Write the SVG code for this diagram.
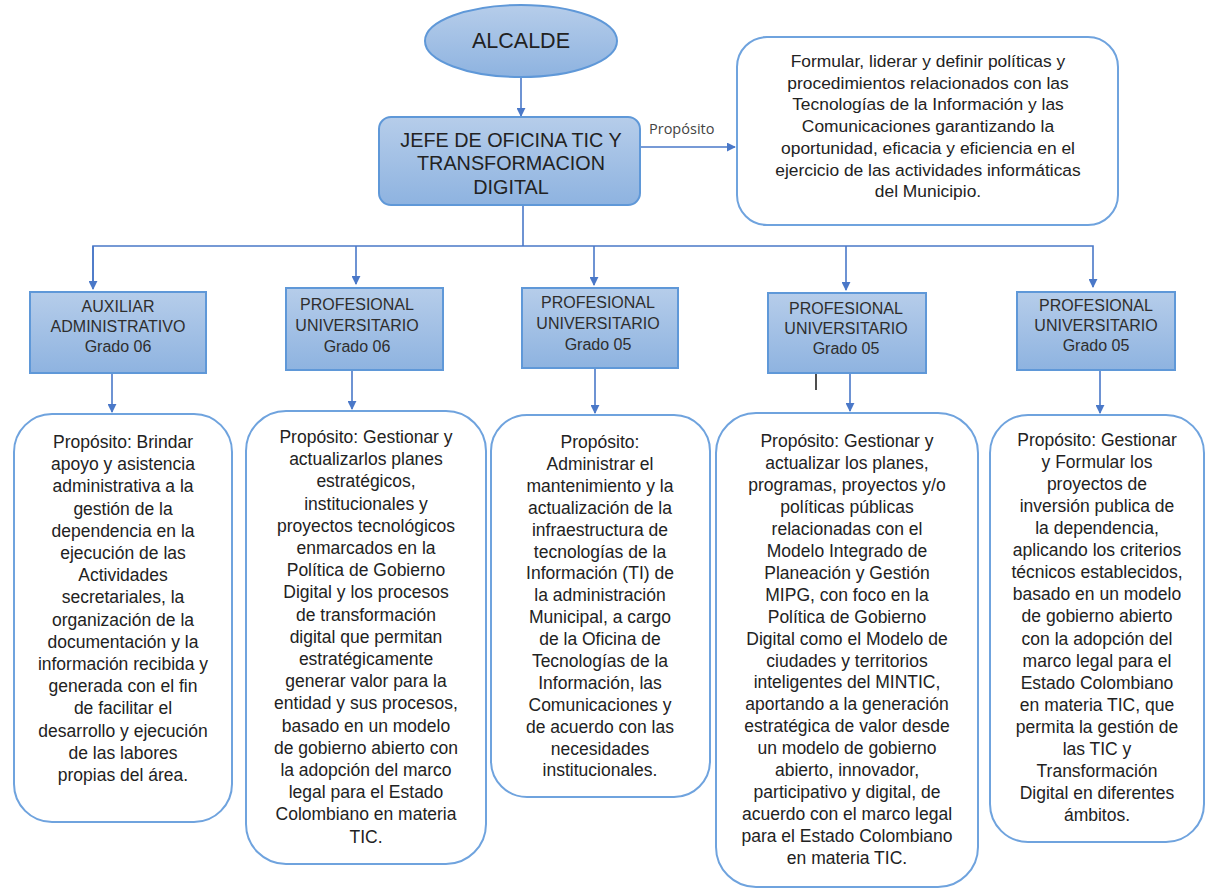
<svg xmlns="http://www.w3.org/2000/svg" width="1206" height="890" viewBox="0 0 1206 890">
<defs>
<linearGradient id="blueGrad" x1="0" y1="0" x2="0" y2="1">
<stop offset="0" stop-color="#b6cdea"/>
<stop offset="1" stop-color="#8eb3e0"/>
</linearGradient>
<marker id="arr" viewBox="0 0 10 10" refX="9" refY="5" markerWidth="9" markerHeight="9" markerUnits="userSpaceOnUse" orient="auto">
<path d="M0,0 L10,5 L0,10 z" fill="#4a78c8"/>
</marker>
</defs>
<style>
.shape{fill:url(#blueGrad);stroke:#5f98d8;stroke-width:2}
.card{fill:#ffffff;stroke:#6fa3de;stroke-width:2}
.conn{fill:none;stroke:#4a78c8;stroke-width:1.6}
.t{font-family:"Liberation Sans",Arial,sans-serif;fill:#222;text-anchor:middle}
.body{font-size:17.5px}
.role{font-size:16px;fill:#2e2e2e}
.lbl{font-family:"Open Sans","Liberation Sans",sans-serif;font-size:14.5px;fill:#444}
</style>
<rect width="1206" height="890" fill="#ffffff"/>

<g id="connectors">
<line class="conn" x1="521" y1="78" x2="521" y2="116" marker-end="url(#arr)"/>
<line class="conn" x1="640" y1="147" x2="735" y2="147" marker-end="url(#arr)"/>
<line class="conn" x1="523" y1="205" x2="523" y2="246"/>
<polyline class="conn" points="93,288 93,246 1093,246 1093,287" marker-end="url(#arr)"/>
<line class="conn" x1="356" y1="246" x2="356" y2="284" marker-end="url(#arr)"/>
<line class="conn" x1="594" y1="246" x2="594" y2="285" marker-end="url(#arr)"/>
<line class="conn" x1="846" y1="246" x2="846" y2="290" marker-end="url(#arr)"/>
<line class="conn" x1="93" y1="246" x2="93" y2="289" marker-end="url(#arr)"/>
<line class="conn" x1="112" y1="373" x2="112" y2="412" marker-end="url(#arr)"/>
<line class="conn" x1="352" y1="370" x2="352" y2="409" marker-end="url(#arr)"/>
<line class="conn" x1="595" y1="368" x2="595" y2="413" marker-end="url(#arr)"/>
<line class="conn" x1="850" y1="373" x2="850" y2="411" marker-end="url(#arr)"/>
<line class="conn" x1="1100" y1="370" x2="1100" y2="413" marker-end="url(#arr)"/>
</g>
<line x1="816" y1="372" x2="816" y2="390" stroke="#222" stroke-width="1.6"/>

<g id="alcalde">
<ellipse class="shape" cx="521" cy="41" rx="96" ry="36"/>
<text class="t" x="521" y="48" font-size="21.5px">ALCALDE</text>
</g>

<g id="jefe">
<rect class="shape" x="379" y="117" width="261" height="88" rx="12"/>
<text class="t" font-size="19.8px"><tspan x="511" y="147">JEFE DE OFICINA TIC Y</tspan><tspan x="511" y="170">TRANSFORMACION</tspan><tspan x="511" y="194">DIGITAL</tspan></text>
</g>

<text class="lbl" x="649" y="134">Propósito</text>

<g id="proposito-jefe">
<rect class="card" x="737" y="37" width="381" height="188" rx="30"/>
<text class="t" font-size="17.4px"><tspan x="928" y="67">Formular, liderar y definir políticas y</tspan><tspan x="928" y="88.7">procedimientos relacionados con las</tspan><tspan x="928" y="110.4">Tecnologías de la Información y las</tspan><tspan x="928" y="132.1">Comunicaciones garantizando la</tspan><tspan x="928" y="153.8">oportunidad, eficacia y eficiencia en el</tspan><tspan x="928" y="175.5">ejercicio de las actividades informáticas</tspan><tspan x="928" y="197.2">del Municipio.</tspan></text>
</g>

<g id="auxiliar">
<rect class="shape" x="30" y="292" width="176" height="81"/>
<text class="t role"><tspan x="118" y="312">AUXILIAR</tspan><tspan x="118" y="332">ADMINISTRATIVO</tspan><tspan x="118" y="352">Grado 06</tspan></text>
</g>
<g id="prof1">
<rect class="shape" x="286" y="288" width="157" height="82"/>
<text class="t role"><tspan x="357" y="310">PROFESIONAL</tspan><tspan x="357" y="331">UNIVERSITARIO</tspan><tspan x="357" y="352">Grado 06</tspan></text>
</g>
<g id="prof2">
<rect class="shape" x="522" y="288" width="156" height="80"/>
<text class="t role"><tspan x="598" y="308">PROFESIONAL</tspan><tspan x="598" y="329">UNIVERSITARIO</tspan><tspan x="598" y="350">Grado 05</tspan></text>
</g>
<g id="prof3">
<rect class="shape" x="768" y="293" width="158" height="80"/>
<text class="t role"><tspan x="846" y="314">PROFESIONAL</tspan><tspan x="846" y="334">UNIVERSITARIO</tspan><tspan x="846" y="354">Grado 05</tspan></text>
</g>
<g id="prof4">
<rect class="shape" x="1017" y="292" width="158" height="78"/>
<text class="t role"><tspan x="1096" y="311">PROFESIONAL</tspan><tspan x="1096" y="331">UNIVERSITARIO</tspan><tspan x="1096" y="351">Grado 05</tspan></text>
</g>

<g id="proposito-auxiliar">
<rect class="card" x="14" y="414" width="218" height="408" rx="38"/>
<text class="t body"><tspan x="123" y="448">Propósito: Brindar</tspan><tspan x="123" dy="22.2">apoyo y asistencia</tspan><tspan x="123" dy="22.2">administrativa a la</tspan><tspan x="123" dy="22.2">gestión de la</tspan><tspan x="123" dy="22.2">dependencia en la</tspan><tspan x="123" dy="22.2">ejecución de las</tspan><tspan x="123" dy="22.2">Actividades</tspan><tspan x="123" dy="22.2">secretariales, la</tspan><tspan x="123" dy="22.2">organización de la</tspan><tspan x="123" dy="22.2">documentación y la</tspan><tspan x="123" dy="22.2">información recibida y</tspan><tspan x="123" dy="22.2">generada con el fin</tspan><tspan x="123" dy="22.2">de facilitar el</tspan><tspan x="123" dy="22.2">desarrollo y ejecución</tspan><tspan x="123" dy="22.2">de las labores</tspan><tspan x="123" dy="22.2">propias del área.</tspan></text>
</g>

<g id="proposito-prof1">
<rect class="card" x="246" y="411" width="240" height="453" rx="40"/>
<text class="t body"><tspan x="366" y="443">Propósito: Gestionar y</tspan><tspan x="366" dy="22.2">actualizarlos planes</tspan><tspan x="366" dy="22.2">estratégicos,</tspan><tspan x="366" dy="22.2">institucionales y</tspan><tspan x="366" dy="22.2">proyectos tecnológicos</tspan><tspan x="366" dy="22.2">enmarcados en la</tspan><tspan x="366" dy="22.2">Política de Gobierno</tspan><tspan x="366" dy="22.2">Digital y los procesos</tspan><tspan x="366" dy="22.2">de transformación</tspan><tspan x="366" dy="22.2">digital que permitan</tspan><tspan x="366" dy="22.2">estratégicamente</tspan><tspan x="366" dy="22.2">generar valor para la</tspan><tspan x="366" dy="22.2">entidad y sus procesos,</tspan><tspan x="366" dy="22.2">basado en un modelo</tspan><tspan x="366" dy="22.2">de gobierno abierto con</tspan><tspan x="366" dy="22.2">la adopción del marco</tspan><tspan x="366" dy="22.2">legal para el Estado</tspan><tspan x="366" dy="22.2">Colombiano en materia</tspan><tspan x="366" dy="22.2">TIC.</tspan></text>
</g>

<g id="proposito-prof2">
<rect class="card" x="491" y="415" width="219" height="382" rx="36"/>
<text class="t body"><tspan x="600" y="448">Propósito:</tspan><tspan x="600" dy="21.9">Administrar el</tspan><tspan x="600" dy="21.9">mantenimiento y la</tspan><tspan x="600" dy="21.9">actualización de la</tspan><tspan x="600" dy="21.9">infraestructura de</tspan><tspan x="600" dy="21.9">tecnologías de la</tspan><tspan x="600" dy="21.9">Información (TI) de</tspan><tspan x="600" dy="21.9">la administración</tspan><tspan x="600" dy="21.9">Municipal, a cargo</tspan><tspan x="600" dy="21.9">de la Oficina de</tspan><tspan x="600" dy="21.9">Tecnologías de la</tspan><tspan x="600" dy="21.9">Información, las</tspan><tspan x="600" dy="21.9">Comunicaciones y</tspan><tspan x="600" dy="21.9">de acuerdo con las</tspan><tspan x="600" dy="21.9">necesidades</tspan><tspan x="600" dy="21.9">institucionales.</tspan></text>
</g>

<g id="proposito-prof3">
<rect class="card" x="716" y="413" width="262" height="474" rx="40"/>
<text class="t body"><tspan x="847" y="447">Propósito: Gestionar y</tspan><tspan x="847" dy="21.95">actualizar los planes,</tspan><tspan x="847" dy="21.95">programas, proyectos y/o</tspan><tspan x="847" dy="21.95">políticas públicas</tspan><tspan x="847" dy="21.95">relacionadas con el</tspan><tspan x="847" dy="21.95">Modelo Integrado de</tspan><tspan x="847" dy="21.95">Planeación y Gestión</tspan><tspan x="847" dy="21.95">MIPG, con foco en la</tspan><tspan x="847" dy="21.95">Política de Gobierno</tspan><tspan x="847" dy="21.95">Digital como el Modelo de</tspan><tspan x="847" dy="21.95">ciudades y territorios</tspan><tspan x="847" dy="21.95">inteligentes del MINTIC,</tspan><tspan x="847" dy="21.95">aportando a la generación</tspan><tspan x="847" dy="21.95">estratégica de valor desde</tspan><tspan x="847" dy="21.95">un modelo de gobierno</tspan><tspan x="847" dy="21.95">abierto, innovador,</tspan><tspan x="847" dy="21.95">participativo y digital, de</tspan><tspan x="847" dy="21.95">acuerdo con el marco legal</tspan><tspan x="847" dy="21.95">para el Estado Colombiano</tspan><tspan x="847" dy="21.95">en materia TIC.</tspan></text>
</g>

<g id="proposito-prof4">
<rect class="card" x="990" y="415" width="214" height="427" rx="38"/>
<text class="t body"><tspan x="1097" y="446">Propósito: Gestionar</tspan><tspan x="1097" dy="22.06">y Formular los</tspan><tspan x="1097" dy="22.06">proyectos de</tspan><tspan x="1097" dy="22.06">inversión publica de</tspan><tspan x="1097" dy="22.06">la dependencia,</tspan><tspan x="1097" dy="22.06">aplicando los criterios</tspan><tspan x="1097" dy="22.06">técnicos establecidos,</tspan><tspan x="1097" dy="22.06">basado en un modelo</tspan><tspan x="1097" dy="22.06">de gobierno abierto</tspan><tspan x="1097" dy="22.06">con la adopción del</tspan><tspan x="1097" dy="22.06">marco legal para el</tspan><tspan x="1097" dy="22.06">Estado Colombiano</tspan><tspan x="1097" dy="22.06">en materia TIC, que</tspan><tspan x="1097" dy="22.06">permita la gestión de</tspan><tspan x="1097" dy="22.06">las TIC y</tspan><tspan x="1097" dy="22.06">Transformación</tspan><tspan x="1097" dy="22.06">Digital en diferentes</tspan><tspan x="1097" dy="22.06">ámbitos.</tspan></text>
</g>
</svg>
